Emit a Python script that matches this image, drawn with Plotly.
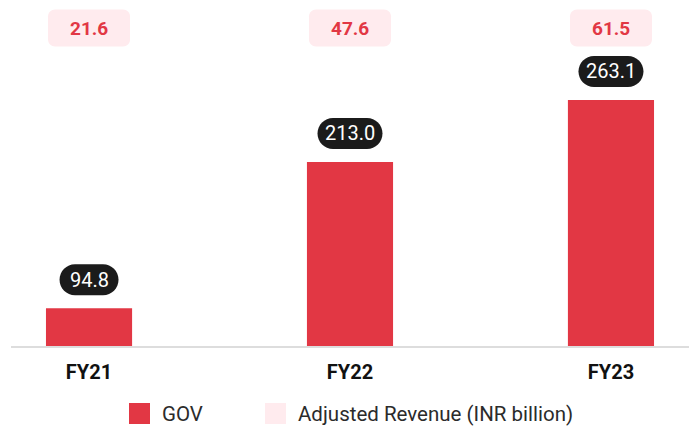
import plotly.graph_objects as go

# data
years = ["FY21", "FY22", "FY23"]
gov = [94.8, 213.0, 263.1]
adj_revenue = [21.6, 47.6, 61.5]

RED = '#E23744'
PINK = '#FFEBEE'
PILL = '#1B1B1B'
FONT = 'Roboto'

K = 0.5523


def rounded_rect(w, h, r, cy):
    """path string (pixel units, y up) for a rounded box centred at (0, cy)"""
    x0, x1 = -w / 2, w / 2
    y0, y1 = cy - h / 2, cy + h / 2
    k = K * r
    pts = [
        f"M{x0 + r},{y0}", f"L{x1 - r},{y0}",
        f"C{x1 - r + k},{y0} {x1},{y0 + r - k} {x1},{y0 + r}",
        f"L{x1},{y1 - r}",
        f"C{x1},{y1 - r + k} {x1 - r + k},{y1} {x1 - r},{y1}",
        f"L{x0 + r},{y1}",
        f"C{x0 + r - k},{y1} {x0},{y1 - r + k} {x0},{y1 - r}",
        f"L{x0},{y0 + r}",
        f"C{x0},{y0 + r - k} {x0 + r - k},{y0} {x0 + r},{y0}", "Z",
    ]
    return " ".join(pts)


xs = list(range(len(years)))

fig = go.Figure()
fig.add_trace(go.Bar(
    x=xs, y=gov, width=0.33, marker_color=RED, marker_line_width=0,
    name='GOV', hoverinfo='skip'
))

shapes = []
annotations = []

for i, (v, rev) in enumerate(zip(gov, adj_revenue)):
    # black pill with GOV value
    txt = f"{v:.1f}"
    ndig = sum(c.isdigit() for c in txt)
    w = 41 + 6 * ndig
    shapes.append(dict(
        type='path', xref='x', yref='y', xsizemode='pixel', ysizemode='pixel',
        xanchor=i, yanchor=v, path=rounded_rect(w, 31, 15.5, 28.5),
        fillcolor=PILL, line={'width': 0}
    ))
    annotations.append(dict(
        x=i, y=v, xref='x', yref='y', yshift=28.5, yanchor='middle',
        text=txt, showarrow=False,
        font={'family': FONT, 'size': 20, 'color': 'white'}
    ))
    # pink box with adjusted revenue
    shapes.append(dict(
        type='path', xref='x', yref='paper', xsizemode='pixel', ysizemode='pixel',
        xanchor=i, yanchor=1, path=rounded_rect(82, 37, 7, -28),
        fillcolor=PINK, line={'width': 0}
    ))
    annotations.append(dict(
        x=i, y=1, xref='x', yref='paper', yshift=-28, yanchor='middle',
        text=f"{rev:.1f}", showarrow=False,
        font={'family': FONT, 'size': 19, 'color': RED, 'weight': 700}
    ))

# legend drawn by hand (pixel offsets from the bottom-left of the plot area)
legend_items = [('GOV', RED, 118), ('Adjusted Revenue (INR billion)', PINK, 254)]
for label, color, xoff in legend_items:
    shapes.append(dict(
        type='rect', xref='paper', yref='paper', xsizemode='pixel', ysizemode='pixel',
        xanchor=0, yanchor=0, x0=xoff, x1=xoff + 21, y0=-57, y1=-78,
        fillcolor=color, line={'width': 0}
    ))
    annotations.append(dict(
        x=0, y=0, xref='paper', yref='paper', xshift=xoff + 31, yshift=-68,
        xanchor='left', yanchor='middle', text=label, showarrow=False,
        font={'family': FONT, 'size': 20.5, 'color': '#2B2B2B'}
    ))

fig.update_xaxes(
    tickvals=xs, ticktext=years, range=[-0.299, 2.299],
    showgrid=False, zeroline=False, showline=True, linecolor='#DDDDDD', linewidth=2,
    tickfont={'family': FONT, 'size': 20, 'color': '#111111', 'weight': 700},
    ticks='', ticklabelstandoff=7
)
fig.update_yaxes(range=[64.2, 343.9], visible=False, showgrid=False, zeroline=False)

fig.update_layout(
    width=690, height=428,
    margin={'l': 11, 'r': 1, 't': 0, 'b': 82},
    plot_bgcolor='white', paper_bgcolor='white',
    showlegend=False, shapes=shapes, annotations=annotations,
    font={'family': FONT, 'color': '#000000'}
)

fig.write_html("out.html", config={'displayModeBar': False},
               post_script="document.body.style.margin='0';")
